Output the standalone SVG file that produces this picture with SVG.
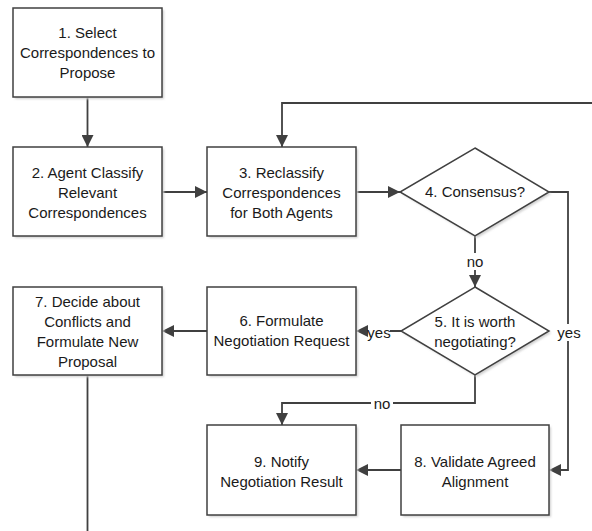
<svg xmlns="http://www.w3.org/2000/svg" width="592" height="531" viewBox="0 0 592 531">
<style>
.box{fill:#fff;stroke:#404040;stroke-width:1.5}
.sh{fill:#d0d0d0;filter:url(#blur)}
.t{font-family:"Liberation Sans",Arial,sans-serif;font-size:15px;fill:#1a1a1a;text-anchor:middle}
.c{fill:none;stroke:#404040;stroke-width:1.8}
.lb{fill:#fff}
</style>
<defs>
<filter id="blur" x="-10%" y="-10%" width="120%" height="120%"><feGaussianBlur stdDeviation="1.2"/></filter>
<marker id="ah" markerUnits="userSpaceOnUse" markerWidth="12" markerHeight="12" viewBox="0 0 11 11" refX="11" refY="5.5" orient="auto"><path d="M0,0 L11,5.5 L0,11 z" fill="#404040"/></marker>
</defs>
<rect width="592" height="531" fill="#fff"/>
<g id="connectors">
<path class="c" d="M87.5,97 V147" marker-end="url(#ah)"/>
<path class="c" d="M162,192 H207" marker-end="url(#ah)"/>
<path class="c" d="M356,192 H400" marker-end="url(#ah)"/>
<path class="c" d="M592,103 H282 V147" marker-end="url(#ah)"/>
<path class="c" d="M549,192 H568 V470 H549" marker-end="url(#ah)"/>
<path class="c" d="M475,236 V287" marker-end="url(#ah)"/>
<path class="c" d="M401,331 H356" marker-end="url(#ah)"/>
<path class="c" d="M207,331 H162" marker-end="url(#ah)"/>
<path class="c" d="M475,375 V403 H282 V425" marker-end="url(#ah)"/>
<path class="c" d="M401,470 H356" marker-end="url(#ah)"/>
<path class="c" d="M87.5,375 V531"/>
<rect class="lb" x="464" y="253" width="22" height="17"/>
<text class="t" x="475" y="267">no</text>
<rect class="lb" x="368" y="324" width="22" height="17"/>
<text class="t" x="379" y="338">yes</text>
<rect class="lb" x="557" y="324" width="24" height="17"/>
<text class="t" x="569" y="338">yes</text>
<rect class="lb" x="371" y="396" width="22" height="15"/>
<text class="t" x="382" y="409">no</text>
</g>
<g id="n1"><rect class="sh" x="15" y="10" width="149" height="89"/><rect class="box" x="13" y="8" width="149" height="89"/>
<text class="t"><tspan x="87.5" y="38">1. Select</tspan><tspan x="87.5" y="58">Correspondences to</tspan><tspan x="87.5" y="78">Propose</tspan></text></g>
<g id="n2"><rect class="sh" x="15" y="149" width="149" height="89"/><rect class="box" x="13" y="147" width="149" height="89"/>
<text class="t"><tspan x="87.5" y="178">2. Agent Classify</tspan><tspan x="87.5" y="198">Relevant</tspan><tspan x="87.5" y="218">Correspondences</tspan></text></g>
<g id="n3"><rect class="sh" x="209" y="149" width="149" height="89"/><rect class="box" x="207" y="147" width="149" height="89"/>
<text class="t"><tspan x="281.5" y="178">3. Reclassify</tspan><tspan x="281.5" y="198">Correspondences</tspan><tspan x="281.5" y="218">for Both Agents</tspan></text></g>
<g id="n4"><path class="sh" d="M477,150 L551,194 L477,238 L402,194 z"/><path class="box" d="M475,148 L549,192 L475,236 L400,192 z"/>
<text class="t" x="475" y="197">4. Consensus?</text></g>
<g id="n5"><path class="sh" d="M477,289 L551,333 L477,377 L403,333 z"/><path class="box" d="M475,287 L549,331 L475,375 L401,331 z"/>
<text class="t"><tspan x="475" y="327">5. It is worth</tspan><tspan x="475" y="347">negotiating?</tspan></text></g>
<g id="n6"><rect class="sh" x="209" y="289" width="149" height="88"/><rect class="box" x="207" y="287" width="149" height="88"/>
<text class="t"><tspan x="281.5" y="326">6. Formulate</tspan><tspan x="281.5" y="346">Negotiation Request</tspan></text></g>
<g id="n7"><rect class="sh" x="15" y="289" width="149" height="88"/><rect class="box" x="13" y="287" width="149" height="88"/>
<text class="t"><tspan x="87.5" y="307">7. Decide about</tspan><tspan x="87.5" y="327">Conflicts and</tspan><tspan x="87.5" y="347">Formulate New</tspan><tspan x="87.5" y="367">Proposal</tspan></text></g>
<g id="n8"><rect class="sh" x="403" y="427" width="148" height="90"/><rect class="box" x="401" y="425" width="148" height="90"/>
<text class="t"><tspan x="475" y="467">8. Validate Agreed</tspan><tspan x="475" y="487">Alignment</tspan></text></g>
<g id="n9"><rect class="sh" x="209" y="427" width="149" height="90"/><rect class="box" x="207" y="425" width="149" height="90"/>
<text class="t"><tspan x="281.5" y="467">9. Notify</tspan><tspan x="281.5" y="487">Negotiation Result</tspan></text></g>
</svg>
